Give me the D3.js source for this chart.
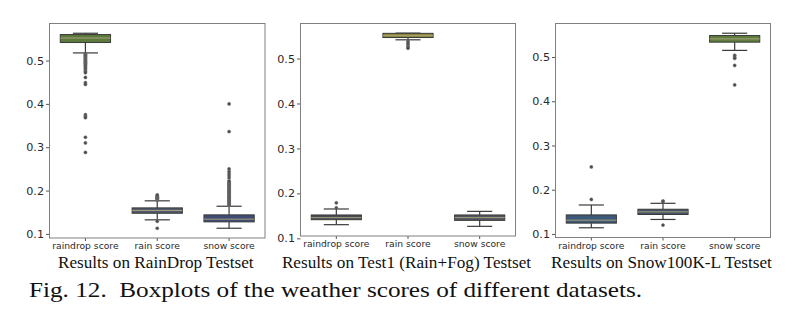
<!DOCTYPE html>
<html><head><meta charset="utf-8">
<script src="https://cdn.jsdelivr.net/npm/d3@7"></script>
<style>body{margin:0;background:#fff}svg{display:block}</style>
</head><body>
<svg id="c" width="797" height="328"></svg>
<script>
const categories = ["raindrop score", "rain score", "snow score"];
const panelTitles = ["Results on RainDrop Testset", "Results on Test1 (Rain+Fog) Testset", "Results on Snow100K-L Testset"];
const caption = "Fig. 12.  Boxplots of the weather scores of different datasets.";
const yTicks = [0.1, 0.2, 0.3, 0.4, 0.5];

// box stats per category: [whiskerLow, q1, median, q3, whiskerHigh]
const rainDropStats = [
  [0.5176, 0.5416, 0.5520, 0.5600, 0.5630],
  [0.1324, 0.1476, 0.1540, 0.1600, 0.1763],
  [0.1130, 0.1277, 0.1340, 0.1439, 0.1638]
];
const rainDropOutliers = [
  [0.516, 0.514, 0.512, 0.510, 0.508, 0.506, 0.504, 0.502, 0.500, 0.498, 0.496, 0.494, 0.492, 0.490, 0.488, 0.485, 0.482, 0.478, 0.475, 0.472, 0.461, 0.449, 0.445, 0.375, 0.371, 0.368, 0.323, 0.310, 0.288],
  [0.178, 0.180, 0.181, 0.182, 0.183, 0.184, 0.185, 0.186, 0.188, 0.190, 0.129, 0.113],
  [0.166, 0.168, 0.170, 0.172, 0.174, 0.176, 0.178, 0.180, 0.182, 0.184, 0.186, 0.188, 0.190, 0.192, 0.194, 0.196, 0.198, 0.200, 0.202, 0.204, 0.206, 0.208, 0.210, 0.212, 0.214, 0.216, 0.218, 0.220, 0.222, 0.229, 0.234, 0.239, 0.244, 0.250, 0.336, 0.400]
];
const test1Stats = [
  [0.1304, 0.1415, 0.1460, 0.1520, 0.1653],
  [0.5416, 0.5467, 0.5510, 0.5560, 0.5564],
  [0.1267, 0.1400, 0.1460, 0.1520, 0.1600]
];
const test1Outliers = [
  [0.168, 0.179],
  [0.538, 0.534, 0.530, 0.526, 0.523],
  []
];
const snowStats = [
  [0.1140, 0.1245, 0.1312, 0.1431, 0.1655],
  [0.1328, 0.1440, 0.1500, 0.1559, 0.1693],
  [0.5150, 0.5336, 0.5410, 0.5486, 0.5538]
];
const snowOutliers = [
  [0.178, 0.2515],
  [0.1745, 0.1735, 0.120],
  [0.504, 0.500, 0.497, 0.481, 0.437]
];
const boxColors = [
  ["#5b7a3c", "#505a6b", "#3f4b73"],
  ["#474c57", "#8a873c", "#50555f"],
  ["#3e5877", "#43536a", "#5f7d3e"]
];

const panels = [
  {stats: rainDropStats, outliers: rainDropOutliers, colors: boxColors[0], title: panelTitles[0], x0: 49.5, x1: 265, y0: 23.5, y1: 238},
  {stats: test1Stats, outliers: test1Outliers, colors: boxColors[1], title: panelTitles[1], x0: 300.5, x1: 515.5, y0: 23.5, y1: 236},
  {stats: snowStats, outliers: snowOutliers, colors: boxColors[2], title: panelTitles[2], x0: 555.5, x1: 770.5, y0: 23.5, y1: 237.5}
];

const svg = d3.select("#c");

panels.forEach(p => {
  const g = svg.append("g");
  const allVals = p.stats.flat().concat(p.outliers.flat());
  const lo = d3.min(allVals), hi = d3.max(allVals), pad = (hi - lo) * 0.05;
  const y = d3.scaleLinear().domain([lo - pad, hi + pad]).range([p.y1, p.y0]);
  const x = d3.scaleBand().domain(categories).range([p.x0, p.x1]).paddingInner(0.3).paddingOuter(0.15);
  const bw = x.bandwidth();

  // y axis
  const ya = g.append("g").attr("transform", `translate(${p.x0},0)`)
    .call(d3.axisLeft(y).tickValues(yTicks).tickFormat(d3.format(".1f")).tickSize(3.5).tickPadding(2));
  ya.select(".domain").remove();
  ya.selectAll("line").attr("stroke", "#555");
  ya.selectAll("text").attr("font-family", "DejaVu Sans").attr("font-size", 11.2).attr("fill", "#2a2a2a");

  // x axis labels
  const xa = g.append("g").attr("transform", `translate(0,${p.y1})`)
    .call(d3.axisBottom(x).tickSize(3).tickPadding(1.5));
  xa.select(".domain").remove();
  xa.selectAll("line").attr("stroke", "#555");
  xa.selectAll("text").attr("font-family", "DejaVu Sans").attr("font-size", 9.2).attr("fill", "#2a2a2a");

  // boxes
  categories.forEach((c, i) => {
    const [wl, q1, md, q3, wh] = p.stats[i];
    const cx = x(c) + bw / 2;
    const bg = g.append("g");
    bg.append("line").attr("x1", cx).attr("x2", cx).attr("y1", y(q3)).attr("y2", y(wh)).attr("stroke", "#3a3a3a").attr("stroke-width", 1.2);
    bg.append("line").attr("x1", cx).attr("x2", cx).attr("y1", y(q1)).attr("y2", y(wl)).attr("stroke", "#3a3a3a").attr("stroke-width", 1.2);
    bg.append("line").attr("x1", cx - bw / 4).attr("x2", cx + bw / 4).attr("y1", y(wh)).attr("y2", y(wh)).attr("stroke", "#3a3a3a").attr("stroke-width", 1.2);
    bg.append("line").attr("x1", cx - bw / 4).attr("x2", cx + bw / 4).attr("y1", y(wl)).attr("y2", y(wl)).attr("stroke", "#3a3a3a").attr("stroke-width", 1.2);
    bg.append("rect").attr("x", x(c)).attr("width", bw).attr("y", y(q3)).attr("height", y(q1) - y(q3))
      .attr("fill", p.colors[i]).attr("stroke", "#3a3a3a").attr("stroke-width", 1);
    bg.append("line").attr("x1", x(c)).attr("x2", x(c) + bw).attr("y1", y(md)).attr("y2", y(md)).attr("stroke", "#a8a07a").attr("stroke-width", 1);
    bg.selectAll("circle").data(p.outliers[i]).join("circle")
      .attr("cx", cx).attr("cy", d => y(d)).attr("r", 1.6)
      .attr("fill", "#4a4a4a").attr("stroke", "#777").attr("stroke-width", 0.5);
  });

  // frame
  g.append("rect").attr("x", p.x0).attr("y", p.y0).attr("width", p.x1 - p.x0).attr("height", p.y1 - p.y0)
    .attr("fill", "none").attr("stroke", "#808080").attr("stroke-width", 1);

  // title
  g.append("text").attr("x", (p.x0 + p.x1) / 2 - 1.5).attr("y", 267.5).attr("text-anchor", "middle")
    .attr("font-family", "Liberation Serif").attr("font-size", 17.2).attr("fill", "#111").text(p.title);
});

svg.append("text").attr("x", 29).attr("y", 297).attr("font-family", "Liberation Serif")
  .attr("font-size", 21.5).attr("fill", "#111").attr("textLength", 613).attr("lengthAdjust", "spacingAndGlyphs")
  .style("white-space", "pre").text(caption);
</script>
</body></html>
